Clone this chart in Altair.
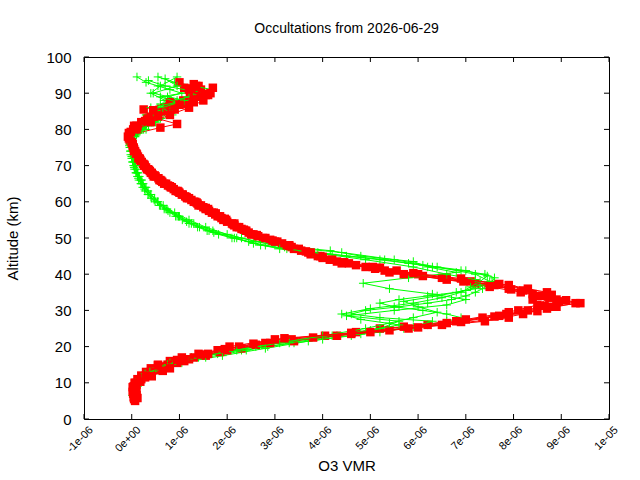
import altair as alt
import pandas as pd

# Ozone volume mixing ratio profiles (ppmv) against altitude (km)
R1_ALT = [6, 7, 8, 9, 10, 11, 12, 13, 14, 15, 16, 17, 18, 19, 20, 21, 22, 23, 24, 25,
          26, 27, 28, 29, 30, 31, 32, 33, 34, 35, 36, 37, 38, 39, 40, 41, 42, 43, 44, 45,
          46, 47, 48, 49, 50, 51, 52, 53, 54, 55, 56, 57, 58, 59, 60, 61, 62, 63, 64, 65,
          66, 67, 68, 69, 70, 71, 72, 73, 74, 75, 76, 77, 78, 79, 80, 81, 82, 83, 84, 85,
          86, 87, 88, 89, 90, 91, 92]
R1_VMR = [0.08, 0.05, 0.06, 0.04, 0.08, 0.12, 0.20, 0.30, 0.40, 0.55, 0.80, 1.05, 1.40, 1.80, 2.25, 2.80, 3.35, 4.05, 4.70, 5.20,
          6.20, 6.80, 7.35, 7.85, 8.30, 8.90, 9.30, 8.90, 8.50, 8.15, 7.90, 7.60, 7.10, 6.50, 6.00, 5.55, 5.05, 4.55, 4.15, 3.95,
          3.70, 3.50, 3.30, 3.05, 2.75, 2.55, 2.38, 2.25, 2.10, 1.98, 1.85, 1.72, 1.60, 1.45, 1.33, 1.20, 1.07, 0.96, 0.84, 0.72,
          0.60, 0.50, 0.42, 0.34, 0.27, 0.21, 0.16, 0.11, 0.07, 0.04, 0.01, -0.02, -0.04, -0.02, 0.03, 0.10, 0.20, 0.32, 0.45, 0.60,
          0.75, 0.92, 1.08, 1.22, 1.35, 1.45, 1.40]

R2_ALT = [5.5, 7.5, 9.5, 11.5, 13.5, 15.5, 17.5, 19.5, 21.5, 23.5, 25.5, 27.5, 29.5, 31.5, 33.5, 35.5, 37.5, 39.5, 41.5, 43.5,
          45.5, 47.5, 49.5, 51.5, 53.5, 55.5, 57.5, 59.5, 61.5, 63.5, 65.5, 67.5, 69.5, 71.5, 73.5, 75.5, 77.5, 79.5, 81.5, 83.5,
          85.5, 87.5, 89.5, 91.5]
R2_VMR = [0.05, 0.02, 0.10, 0.28, 0.50, 0.95, 1.55, 2.30, 3.40, 4.60, 5.70, 7.00, 7.90, 8.50, 8.75, 8.20, 7.20, 6.10, 5.10, 4.30,
          3.75, 3.35, 2.90, 2.45, 2.15, 1.88, 1.62, 1.38, 1.12, 0.88, 0.64, 0.44, 0.30, 0.18, 0.08, 0.02, -0.06, 0.05, 0.22, 0.55,
          0.90, 1.30, 1.60, 1.70]

R3_ALT = [6.5, 8.5, 10.5, 12.5, 14.5, 16.5, 18.5, 20.5, 22.5, 24.5, 26.5, 28.5, 30.5, 32.5, 34.5, 36.5, 38.5, 40.5, 42.5, 44.5,
          46.5, 48.5, 50.5, 52.5, 54.5, 56.5, 58.5, 60.5, 62.5, 64.5, 66.5, 68.5, 70.5, 72.5, 74.5, 76.5, 78.5, 80.5, 81.5, 83.5,
          85.5, 87.5, 89.5, 91.5, 92.5]
R3_VMR = [0.10, 0.08, 0.14, 0.35, 0.70, 1.20, 1.85, 2.60, 3.80, 5.40, 6.60, 7.70, 8.70, 8.95, 8.40, 7.50, 6.60, 5.40, 4.70, 4.00,
          3.55, 3.15, 2.65, 2.30, 2.00, 1.75, 1.50, 1.25, 1.00, 0.76, 0.56, 0.38, 0.24, 0.13, 0.05, 0.00, -0.03, 0.60, 0.95, 0.40,
          0.25, 0.80, 1.55, 1.10, 1.30]

R4_ALT = [5, 7, 9, 11, 13, 15, 17, 19, 21, 23, 25, 27, 29, 31, 33, 35, 37, 39, 41, 43,
          45, 47, 49, 51, 53, 55, 57, 59, 61, 63, 65, 67, 69, 71, 73, 75, 77, 79, 81, 83,
          85, 87, 89, 91, 93]
R4_VMR = [0.07, 0.03, 0.06, 0.20, 0.40, 0.75, 1.30, 2.00, 2.90, 4.30, 5.80, 7.40, 8.20, 8.80, 8.40, 8.70, 7.90, 6.60, 5.30, 4.40,
          3.90, 3.40, 3.00, 2.50, 2.20, 1.92, 1.68, 1.40, 1.16, 0.92, 0.68, 0.46, 0.32, 0.19, 0.09, 0.03, -0.04, -0.06, 0.05, 0.35,
          0.70, 1.15, 1.45, 1.20, 1.00]

R5_ALT = [5.8, 7.3, 8.8, 10.3, 11.8, 13.3, 14.8, 16.3, 17.8, 19.3, 20.8, 22.3, 23.8, 25.3, 26.8, 28.3, 29.8, 31.3, 32.8, 34.3,
          35.8, 37.3, 38.8, 40.3, 41.8, 43.3, 44.8, 46.3, 47.8, 49.3, 50.8, 52.3, 53.8, 55.3, 56.8, 58.3, 59.8, 61.3, 62.8, 64.3,
          65.8, 67.3, 68.8, 70.3, 71.8, 73.3, 74.8, 76.3, 77.8, 79.3, 80.8, 82.3, 83.8, 85.3, 86.8, 88.3, 89.8, 91.3]
R5_VMR = [0.12, 0.05, 0.02, 0.18, 0.42, 0.65, 0.55, 0.95, 1.45, 1.95, 2.55, 3.20, 4.60, 6.00, 6.90, 7.60, 8.50, 8.65, 9.10, 8.80,
          7.95, 7.70, 6.90, 5.90, 5.20, 4.45, 4.00, 3.65, 3.30, 2.95, 2.62, 2.35, 2.12, 1.95, 1.76, 1.55, 1.36, 1.15, 0.98, 0.80,
          0.62, 0.48, 0.36, 0.26, 0.17, 0.10, 0.04, 0.00, -0.05, -0.02, 0.12, 0.28, 0.55, 0.45, 1.00, 1.30, 1.55, 1.25]

R6_ALT = [6, 8, 10, 12, 14, 16, 18, 20, 22, 24, 26, 28, 30, 32, 34, 36, 38, 40, 42, 44,
          46, 48, 50, 52, 54, 56, 58, 60, 62, 64, 66, 68, 70, 72, 74, 76, 78, 80, 82, 84,
          86, 88, 90, 92]
R6_VMR = [0.04, 0.10, 0.06, 0.30, 0.80, 1.10, 1.60, 2.05, 3.00, 5.00, 6.50, 7.90, 8.10, 9.40, 8.60, 8.30, 6.95, 5.70, 4.90, 4.20,
          3.75, 3.25, 2.80, 2.40, 2.15, 1.80, 1.55, 1.30, 1.05, 0.82, 0.58, 0.40, 0.26, 0.14, 0.05, 0.02, -0.08, 0.10, 0.40, 0.80,
          1.20, 1.50, 1.65, 1.35]

G1_ALT = [7, 8, 9, 10, 11, 12, 13, 14, 15, 16, 17, 18, 19, 20, 21, 22, 23, 24, 25, 26,
          27, 28, 29, 30, 31, 32, 33, 34, 35, 36, 37, 38, 39, 40, 41, 42, 43, 44, 45, 46,
          47, 48, 49, 50, 51, 52, 53, 54, 55, 56, 57, 58, 59, 60, 61, 62, 63, 64, 65, 66,
          67, 68, 69, 70, 71, 72, 73, 74, 75, 76, 77, 78, 79, 80, 81, 82, 83, 84, 85, 86,
          87, 88, 89, 90, 91, 92, 93, 94.5]
G1_VMR = [0.05, 0.04, 0.06, 0.09, 0.14, 0.22, 0.33, 0.48, 0.70, 0.98, 1.35, 1.80, 2.30, 2.85, 3.40, 4.00, 4.60, 5.20, 5.70, 6.20,
          6.60, 6.90, 6.60, 6.10, 5.50, 5.20, 5.60, 6.20, 6.80, 7.20, 7.40, 7.55, 7.60, 7.40, 6.90, 6.30, 5.80, 5.20, 4.50, 3.90,
          3.25, 2.80, 2.45, 2.10, 1.82, 1.58, 1.38, 1.20, 1.06, 0.92, 0.80, 0.68, 0.58, 0.49, 0.41, 0.34, 0.28, 0.23, 0.19, 0.15,
          0.12, 0.09, 0.06, 0.04, 0.02, 0.00, -0.02, -0.03, -0.04, -0.03, 0.00, 0.06, 0.12, 0.20, 0.30, 0.42, 0.55, 0.50, 0.70, 0.62,
          0.85, 0.95, 0.75, 1.05, 0.80, 0.55, 0.30, 0.11]

G2_ALT = [7.5, 9.5, 11.5, 13.5, 15.5, 17.5, 19.5, 21.5, 23.5, 25.5, 27, 28, 29, 30, 31, 32, 33, 34, 35, 36,
          37, 38, 40, 42, 44, 46, 47.5, 49, 51, 53, 55, 57, 59, 61, 63, 65, 67, 69, 71, 73,
          75, 77, 79, 81, 83, 85, 87, 89, 91, 93, 94.5]
G2_VMR = [0.10, 0.08, 0.25, 0.55, 1.05, 1.90, 2.80, 3.70, 4.80, 5.90, 6.30, 5.20, 4.60, 4.90, 5.60, 6.20, 6.70, 7.00, 7.20, 7.35,
          7.45, 7.50, 7.20, 6.40, 5.50, 4.40, 3.20, 2.60, 2.00, 1.55, 1.20, 0.90, 0.66, 0.48, 0.34, 0.24, 0.16, 0.10, 0.05, 0.02,
          -0.02, 0.01, 0.15, 0.35, 0.60, 0.80, 0.60, 1.20, 1.68, 0.90, 0.55]

G3_ALT = [7, 9, 11, 13, 15, 17, 19, 21, 23, 25, 27, 28.5, 30, 31.5, 33, 34.5, 36, 37.5, 39, 40.5,
          42, 43.5, 45, 46.5, 48, 50, 52, 54, 56, 58, 60, 62, 64, 66, 68, 70, 72, 74, 76, 78,
          80, 82, 84, 86, 88, 90, 92, 94.5]
G3_VMR = [0.08, 0.12, 0.20, 0.45, 0.85, 1.55, 2.40, 3.30, 4.30, 5.20, 5.60, 4.50, 5.50, 6.60, 7.00, 6.30, 5.40, 4.85, 5.80, 6.80,
          6.20, 5.90, 4.80, 4.16, 3.00, 2.30, 1.70, 1.30, 1.00, 0.74, 0.54, 0.40, 0.28, 0.19, 0.12, 0.07, 0.03, 0.00, -0.04, 0.05,
          0.25, 0.45, 0.30, 0.55, 0.70, 0.40, 0.60, 0.95]

G4_ALT = [6.5, 8, 9.5, 11, 12.5, 14, 15.5, 17, 18.5, 20, 21.5, 23, 24.5, 26, 27.5, 29, 30.5, 32, 33.5, 35,
          36.5, 38, 39.5, 41, 42.5, 44, 45.5, 47, 48.5, 50, 51.5, 53, 54.5, 56, 57.5, 59, 60.5, 62, 63.5, 65,
          66.5, 68, 69.5, 71, 72.5, 74, 75.5, 77, 78.5, 80, 81.5, 83, 84.5, 86, 87.5, 89, 90.5, 92, 93.5]
G4_VMR = [0.02, 0.06, 0.10, 0.16, 0.28, 0.50, 0.80, 1.25, 1.90, 2.60, 3.30, 4.20, 5.00, 5.60, 4.80, 4.40, 5.00, 5.90, 6.50, 6.90,
          7.10, 7.30, 7.45, 7.00, 6.10, 5.30, 4.20, 3.10, 2.55, 2.15, 1.72, 1.42, 1.15, 0.95, 0.76, 0.60, 0.47, 0.36, 0.27, 0.20,
          0.14, 0.09, 0.05, 0.02, 0.00, -0.02, -0.05, -0.02, 0.10, 0.30, 0.22, 0.45, 0.75, 0.40, 0.95, 0.60, 1.30, 0.70, 0.35]

G5_ALT = [7, 9, 11, 13, 15, 17, 19, 21, 23, 25, 26.5, 28, 29.5, 31, 32.5, 34, 35.5, 37, 38.5, 40,
          42, 44, 46, 48, 50, 52, 54, 56, 58, 60, 62, 64, 66, 68, 70, 72, 74, 76, 78, 80,
          82, 84, 86, 88, 90, 92, 94]
G5_VMR = [0.06, 0.05, 0.22, 0.38, 0.75, 1.40, 2.20, 3.10, 4.00, 4.90, 5.40, 5.90, 6.40, 6.00, 5.70, 6.40, 7.00, 7.30, 7.20, 6.60,
          5.90, 4.90, 3.80, 2.70, 2.20, 1.62, 1.25, 0.98, 0.72, 0.55, 0.40, 0.30, 0.21, 0.13, 0.08, 0.04, 0.01, -0.02, 0.00, 0.18,
          0.50, 0.85, 0.65, 1.10, 0.45, 0.95, 0.70]

X_TICKS = [-1e-06, 0.0, 1e-06, 2e-06, 3e-06, 4e-06, 5e-06, 6e-06, 7e-06, 8e-06, 9e-06, 1e-05]
X_TICK_LABELS = ["-1e-06", "0e+00", "1e-06", "2e-06", "3e-06", "4e-06", "5e-06",
                 "6e-06", "7e-06", "8e-06", "9e-06", "1e-05"]
Y_TICKS = [0, 10, 20, 30, 40, 50, 60, 70, 80, 90, 100]

RED = "#ff0000"
GREEN = "#00ff00"
W, H = 525, 362
TICK = 5

# drawing order alternates the two families of occultations
PROFILES = [
    ("g1", GREEN, G1_ALT, G1_VMR),
    ("r1", RED, R1_ALT, R1_VMR),
    ("g2", GREEN, G2_ALT, G2_VMR),
    ("r2", RED, R2_ALT, R2_VMR),
    ("g3", GREEN, G3_ALT, G3_VMR),
    ("r3", RED, R3_ALT, R3_VMR),
    ("g4", GREEN, G4_ALT, G4_VMR),
    ("r4", RED, R4_ALT, R4_VMR),
    ("g5", GREEN, G5_ALT, G5_VMR),
    ("r5", RED, R5_ALT, R5_VMR),
    ("r6", RED, R6_ALT, R6_VMR),
]

x_scale = alt.Scale(domain=[-1e-06, 1e-05], nice=False, zero=False)
y_scale = alt.Scale(domain=[0, 100], nice=False)

label_array = "[" + ",".join(f"'{s}'" for s in X_TICK_LABELS) + "]"

x_axis = alt.Axis(
    title="O3 VMR", values=X_TICKS, labelExpr=f"{label_array}[round(datum.value*1e6)+1]",
    labelAngle=-45, labelAlign="right", labelBaseline="middle",
    labelFontSize=11, labelPadding=9, labelOffset=7,
    ticks=False, domain=False, grid=False,
    titleFontSize=15, titleFontWeight="normal", titlePadding=4,
)
y_axis = alt.Axis(
    title="Altitude (km)", values=Y_TICKS, labelFontSize=15, labelPadding=13,
    ticks=False, domain=False, grid=False,
    titleFontSize=15, titleFontWeight="normal", titlePadding=25,
)


def xenc(field):
    return alt.X(field, type="quantitative", scale=x_scale, axis=x_axis, title="O3 VMR")


def yenc(field):
    return alt.Y(field, type="quantitative", scale=y_scale, axis=y_axis, title="Altitude (km)")


layers = []
for name, color, alts, vmrs in PROFILES:
    df = pd.DataFrame({
        "seq": list(range(len(alts))),
        "alt": alts,
        "vmr": [v * 1e-06 for v in vmrs],
    })
    line = alt.Chart(df).mark_line(color=color, strokeWidth=1, clip=True).encode(
        x=xenc("vmr"), y=yenc("alt"), order="seq:Q"
    )
    if color == RED:
        pts = alt.Chart(df).mark_point(
            shape="square", filled=True, color=color, size=72, opacity=1, strokeWidth=0, clip=True
        ).encode(x=xenc("vmr"), y=yenc("alt"))
    else:
        pts = alt.Chart(df).mark_point(
            shape="M-1,0L1,0M0,-1L0,1", filled=False, color=color, size=72, opacity=1,
            strokeWidth=1, clip=True
        ).encode(x=xenc("vmr"), y=yenc("alt"))
    layers += [line, pts]

# inward tick marks on all four sides of the frame
xt = pd.DataFrame({"t": X_TICKS})
yt = pd.DataFrame({"t": Y_TICKS})
tick_style = dict(color="black", strokeWidth=1)
bottom_ticks = alt.Chart(xt).mark_rule(**tick_style).encode(
    x=xenc("t"), y=alt.value(H), y2=alt.value(H - TICK))
top_ticks = alt.Chart(xt).mark_rule(**tick_style).encode(
    x=xenc("t"), y=alt.value(0), y2=alt.value(TICK))
left_ticks = alt.Chart(yt).mark_rule(**tick_style).encode(
    y=yenc("t"), x=alt.value(0), x2=alt.value(TICK))
right_ticks = alt.Chart(yt).mark_rule(**tick_style).encode(
    y=yenc("t"), x=alt.value(W), x2=alt.value(W - TICK))

chart = alt.layer(*layers, bottom_ticks, top_ticks, left_ticks, right_ticks).properties(
    width=W,
    height=H,
    title=alt.TitleParams(
        "Occultations from 2026-06-29", fontSize=14, fontWeight="normal",
        anchor="middle", offset=3, baseline="alphabetic", color="black",
    ),
    autosize=alt.AutoSizeParams(type="none"),
    padding={"left": 84, "top": 57, "right": 31, "bottom": 61},
).configure(
    font="Liberation Sans",
    background="white",
).configure_view(
    stroke="black", strokeWidth=1,
).configure_axis(
    labelColor="black", titleColor="black", labelFont="Liberation Sans", titleFont="Liberation Sans",
).configure_title(font="Liberation Sans")

chart.save("out.html", embed_options={"renderer": "svg", "actions": False})
